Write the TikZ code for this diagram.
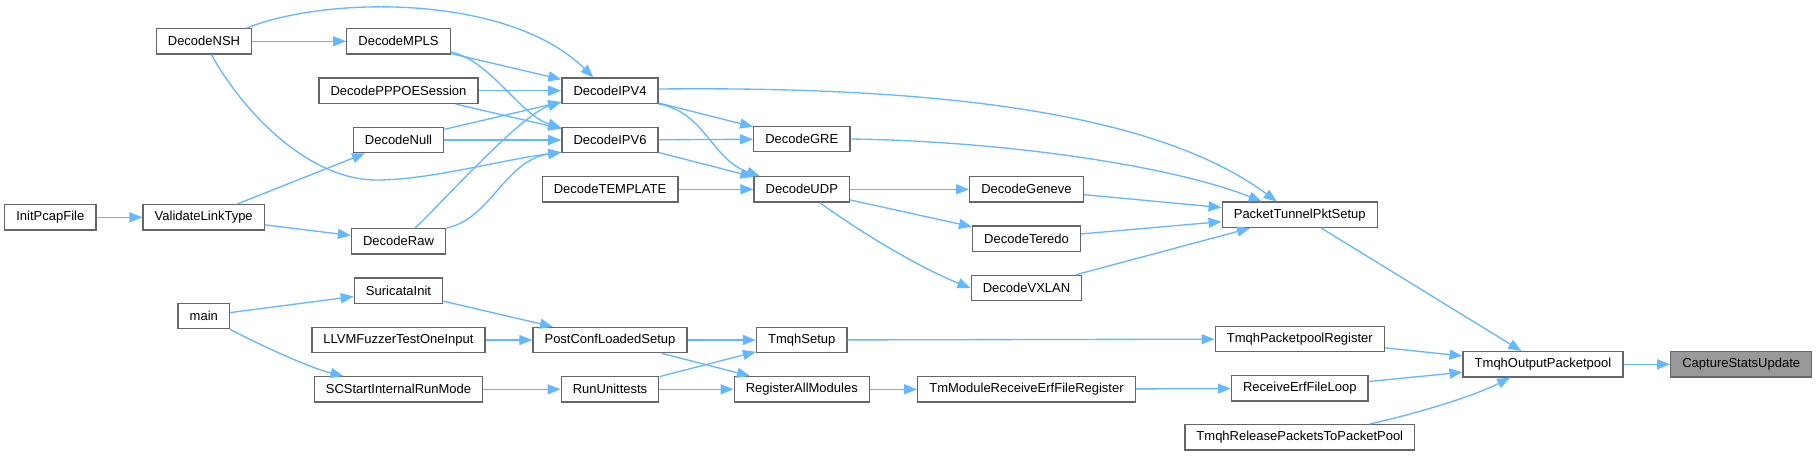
\documentclass[tikz,border=0pt]{standalone}
\usepackage{fontspec}
\setmainfont{Liberation Sans}
\usetikzlibrary{arrows.meta}
\definecolor{fnline}{HTML}{666666}
\definecolor{fnfill}{HTML}{999999}
\definecolor{callc}{HTML}{63B8FF}

\begin{document}
\begin{tikzpicture}[
  x=1pt, y=-1pt,
  fn/.style={draw=fnline, line width=1.33pt, minimum height=25.3pt,
    inner xsep=11.6pt, inner ysep=0pt, font=\fontsize{13}{15}\selectfont},
  fnhl/.style={fn, fill=fnfill},
  ln/.style={draw=callc, line width=1.33pt,
    -{Triangle[length=13pt,width=10pt]}}
]

\useasboundingbox (0,0) rectangle (1817,456);

% callers, left part
\node [fn] (initpcap) at (50.3,217.3) {InitPcapFile};
\node [fn] (validate) at (203.7,217.3) {ValidateLinkType};
\node [fn] (nsh) at (204,41.3) {DecodeNSH};
\node [fn] (mainfn) at (203.8,316) {main};

\node [fn] (mpls) at (398.5,41.3) {DecodeMPLS};
\node [fn] (pppoe) at (398.5,90.7) {DecodePPPOESession};
\node [fn] (null) at (398.5,140) {DecodeNull};
\node [fn] (raw) at (398.5,241.3) {DecodeRaw};
\node [fn] (suri) at (398.5,290.7) {SuricataInit};
\node [fn] (llvm) at (398.5,340) {LLVMFuzzerTestOneInput};
\node [fn] (scstart) at (398.5,389.3) {SCStartInternalRunMode};

\node [fn] (ipv4) at (610,90.7) {DecodeIPV4};
\node [fn] (ipv6) at (610,140) {DecodeIPV6};
\node [fn] (template) at (610,189.3) {DecodeTEMPLATE};
\node [fn] (postconf) at (610,340) {PostConfLoadedSetup};
\node [fn] (rununit) at (610,389.3) {RunUnittests};

\node [fn] (gre) at (801.8,139) {DecodeGRE};
\node [fn] (udp) at (801.8,189.3) {DecodeUDP};
\node [fn] (tmqhsetup) at (801.8,340) {TmqhSetup};
\node [fn] (regall) at (801.8,389.3) {RegisterAllModules};

\node [fn] (geneve) at (1026.5,189.3) {DecodeGeneve};
\node [fn] (teredo) at (1026.5,238.7) {DecodeTeredo};
\node [fn] (vxlan) at (1026.5,288) {DecodeVXLAN};
\node [fn] (tmmod) at (1026.5,389.3) {TmModuleReceiveErfFileRegister};

% callees, right part
\node [fn] (ptps) at (1299.7,214.8) {PacketTunnelPktSetup};
\node [fn] (tmqhreg) at (1299.8,339) {TmqhPacketpoolRegister};
\node [fn] (recv) at (1299.8,388.3) {ReceiveErfFileLoop};
\node [fn] (rel) at (1299.8,437.3) {TmqhReleasePacketsToPacketPool};
\node [fn] (outpool) at (1543,364.3) {TmqhOutputPacketpool};
\node [fnhl] (csu) at (1741.2,364.3) {CaptureStatsUpdate};

% calls
\draw [ln] (outpool) -- (csu);
\draw [ln] (ptps) -- (outpool);
\draw [ln] (tmqhreg) -- (outpool);
\draw [ln] (recv) -- (outpool);
\draw [ln] ([xshift=70]rel.north) .. controls (1410,415) and (1470,398) .. ([xshift=-33]outpool.south);

\draw [ln] (geneve) -- (ptps);
\draw [ln] (teredo) -- (ptps);
\draw [ln] (vxlan) -- (ptps);
\draw [ln] (gre.east) .. controls (1000,141) and (1170,165) .. ([xshift=-38]ptps.north);
\draw [ln] ([yshift=1.7]ipv4.east) .. controls (950,86) and (1160,115) .. ([xshift=-23]ptps.north);

\draw [ln] (udp) -- (geneve);
\draw [ln] (udp) -- (teredo);
\draw [ln] ([xshift=18]udp.south) .. controls (860,232) and (920,268) .. (vxlan.west);

\draw [ln] (ipv4) -- (gre);
\draw [ln] (ipv6) -- (gre);
\draw [ln] (ipv4.south east) .. controls (705,112) and (712,160) .. ([xshift=-42]udp.north);
\draw [ln] (ipv6) -- (udp);
\draw [ln] (template) -- (udp);

\draw [ln] (nsh) -- (mpls);
\draw [ln] ([xshift=42.7]nsh.north) .. controls (330,-5) and (510,-5) .. ([xshift=-16.7]ipv4.north);
\draw [ln] (nsh) .. controls (245,115) and (310,180) .. (376.7,180)
  .. controls (430,180) and (500,160) .. ([yshift=1]ipv6.south west);
\draw [ln] (mpls) -- (ipv4);
\draw [ln] ([yshift=-10.7]mpls.east) .. controls (490,60) and (520,115) .. ([yshift=-1]ipv6.north west);
\draw [ln] (pppoe) -- (ipv4);
\draw [ln] (pppoe) -- (ipv6);
\draw [ln] (null) -- (ipv4);
\draw [ln] (null) -- (ipv6);
\draw [ln] ([xshift=16.5]raw.north) .. controls (440,205) and (520,115) .. ([yshift=2]ipv4.south west);
\draw [ln] (raw.north east) .. controls (490,220) and (505,160) .. ([yshift=1]ipv6.south west);

\draw [ln] (initpcap) -- (validate);
\draw [ln] (validate) -- (null);
\draw [ln] (validate) -- (raw);

\draw [ln] (mainfn) -- (suri);
\draw [ln] (mainfn.south east) .. controls (260,345) and (310,368) .. ([xshift=-55]scstart.north);
\draw [ln] (suri) -- (postconf);
\draw [ln] (llvm) -- (postconf);
\draw [ln] (scstart) -- (rununit);
\draw [ln] (postconf) -- (tmqhsetup);
\draw [ln] (postconf) -- (regall);
\draw [ln] (rununit) -- (tmqhsetup);
\draw [ln] (rununit) -- (regall);
\draw [ln] (tmqhsetup) -- (tmqhreg);
\draw [ln] (regall) -- (tmmod);
\draw [ln] (tmmod) -- (recv);

\end{tikzpicture}
\end{document}
